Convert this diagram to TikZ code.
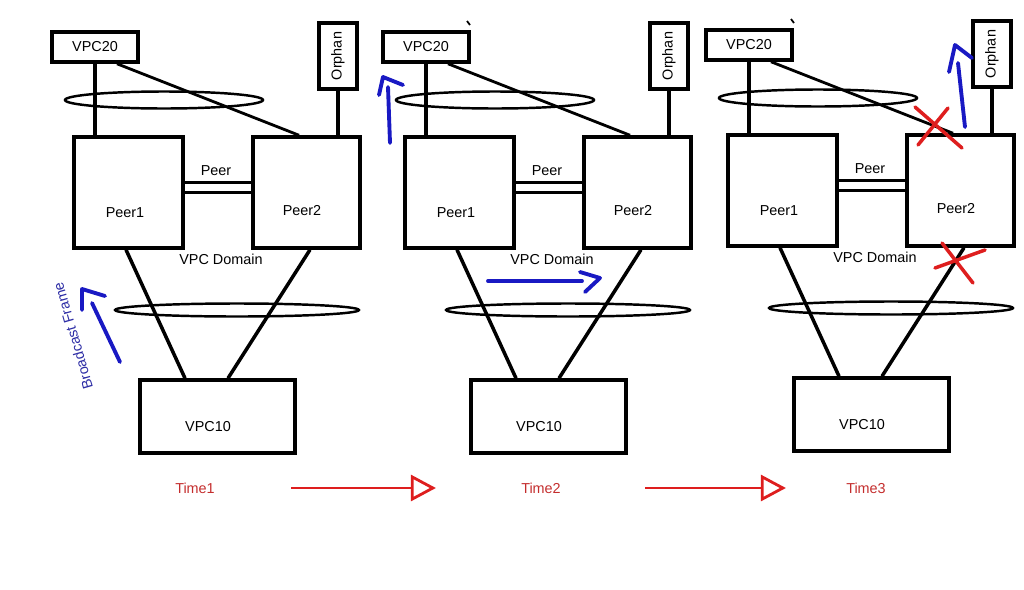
\documentclass[tikz,border=0pt]{standalone}
\usepackage{fontspec}
\setmainfont{Liberation Sans}
\usetikzlibrary{shapes.geometric,arrows.meta}

\definecolor{penred}{RGB}{222,30,30}
\definecolor{timered}{RGB}{196,45,45}
\definecolor{penblue}{RGB}{25,25,195}
\definecolor{txtblue}{RGB}{45,45,165}

\begin{document}
\begin{tikzpicture}[x=0.02cm,y=-0.02cm,font=\fontsize{8.2}{10}\selectfont,
  box/.style={draw,line width=2pt,inner sep=0pt},
  ring/.style={draw,ellipse,line width=1.4pt,inner sep=0pt},
  lbl/.style={inner sep=0pt},
  wire/.style={line width=2pt},
  peerlink/.style={line width=1.5pt},
  pen/.style={penblue,line width=2.2pt,line cap=round,line join=round},
  redx/.style={penred,line width=2pt,line cap=round},
  timeline/.style={penred,line width=1.6pt,-{Triangle[open,length=0.5cm,width=0.52cm]}}]
  \useasboundingbox (0,0) rectangle (1024,589);

  % the same vPC set-up at three moments
  \foreach \i/\dx/\dy/\tx in {1/0/0/195,2/331/0/210,3/654/-2/212}{
    \begin{scope}[shift={(\dx,\dy)}]
      \node[box,minimum width=1.72cm,minimum height=0.6cm] (vpc20-\i) at (95,47) {VPC20};
      \node[box,minimum width=0.76cm,minimum height=1.32cm] (orphan-\i) at (338,56) {};
      \node[lbl,rotate=90] (orphant-\i) at (orphan-\i) {Orphan};
      \node[ring,minimum width=3.96cm,minimum height=0.34cm] (uplag-\i) at (164,100) {};
      \node[box,minimum width=2.18cm,minimum height=2.22cm] (peer1-\i) at (128.5,192.5) {};
      \node[box,minimum width=2.14cm,minimum height=2.22cm] (peer2-\i) at (306.5,192.5) {};
      \node[lbl] (peer1t-\i) at (125,213) {Peer1};
      \node[lbl] (peer2t-\i) at (302,211) {Peer2};
      \node[lbl] (peerl-\i) at (216,171) {Peer};
      \node[lbl] (domain-\i) at (221,259) {VPC Domain};
      \node[ring,minimum width=4.88cm,minimum height=0.26cm] (downlag-\i) at (237,310) {};
      \node[box,minimum width=3.1cm,minimum height=1.46cm] (vpc10-\i) at (217.5,416.5) {};
      \node[lbl] (vpc10t-\i) at (208,427) {VPC10};
      \node[lbl,timered] (time-\i) at (\tx,{488-(\dy)}) {Time\i};

      \draw[wire] (vpc20-\i.south) -- (vpc20-\i.south |- peer1-\i.north);
      \draw[wire,line width=1.6pt] ([xshift=0.44cm]vpc20-\i.south) -- ([xshift=-0.15cm]peer2-\i.north);
      \draw[wire] (orphan-\i.south) -- (orphan-\i.south |- peer2-\i.north);
      \draw[peerlink] ([yshift=0.2cm]peer1-\i.east) -- ([yshift=0.2cm]peer2-\i.west);
      \draw[peerlink] (peer1-\i.east) -- (peer2-\i.west);
      \draw[wire] ([xshift=-0.05cm]peer1-\i.south) -- ([xshift=-0.65cm]vpc10-\i.north);
      \draw[wire] ([xshift=0.07cm]peer2-\i.south) -- ([xshift=0.21cm]vpc10-\i.north);
    \end{scope}
  }

  % time line
  \draw[timeline,shorten <=1.52cm,shorten >=1.7cm] (time-1) -- (time-2);
  \draw[timeline,shorten <=1.68cm,shorten >=1.2cm] (time-2) -- (time-3);

  % broadcast frame path
  \node[lbl,txtblue,rotate=106] (bcast) at (73,336) {Broadcast Frame};
  \draw[pen] (120,362) -- (92,303);
  \draw[pen] (82,310) -- (82,289) -- (105,296);
  \draw[pen] (390,143) -- (388,87);
  \draw[pen] (379,95) -- (383,77) -- (403,85);
  \draw[pen] (488,281) -- (582,281);
  \draw[pen] (580,272) -- (600,278) -- (585,292);
  \draw[pen] (965,127) -- (958,63);
  \draw[pen] (949,72) -- (955,45) -- (972,58);

  % failed links
  \draw[redx] (915,107) -- (962,148) (948,108) -- (918,145);
  \draw[redx] (942,243) -- (973,283) (935,268) -- (985,250);

  \draw[line width=1pt] (467,21) -- (470,25);
  \draw[line width=1pt] (791,19) -- (794,23);
\end{tikzpicture}
\end{document}
